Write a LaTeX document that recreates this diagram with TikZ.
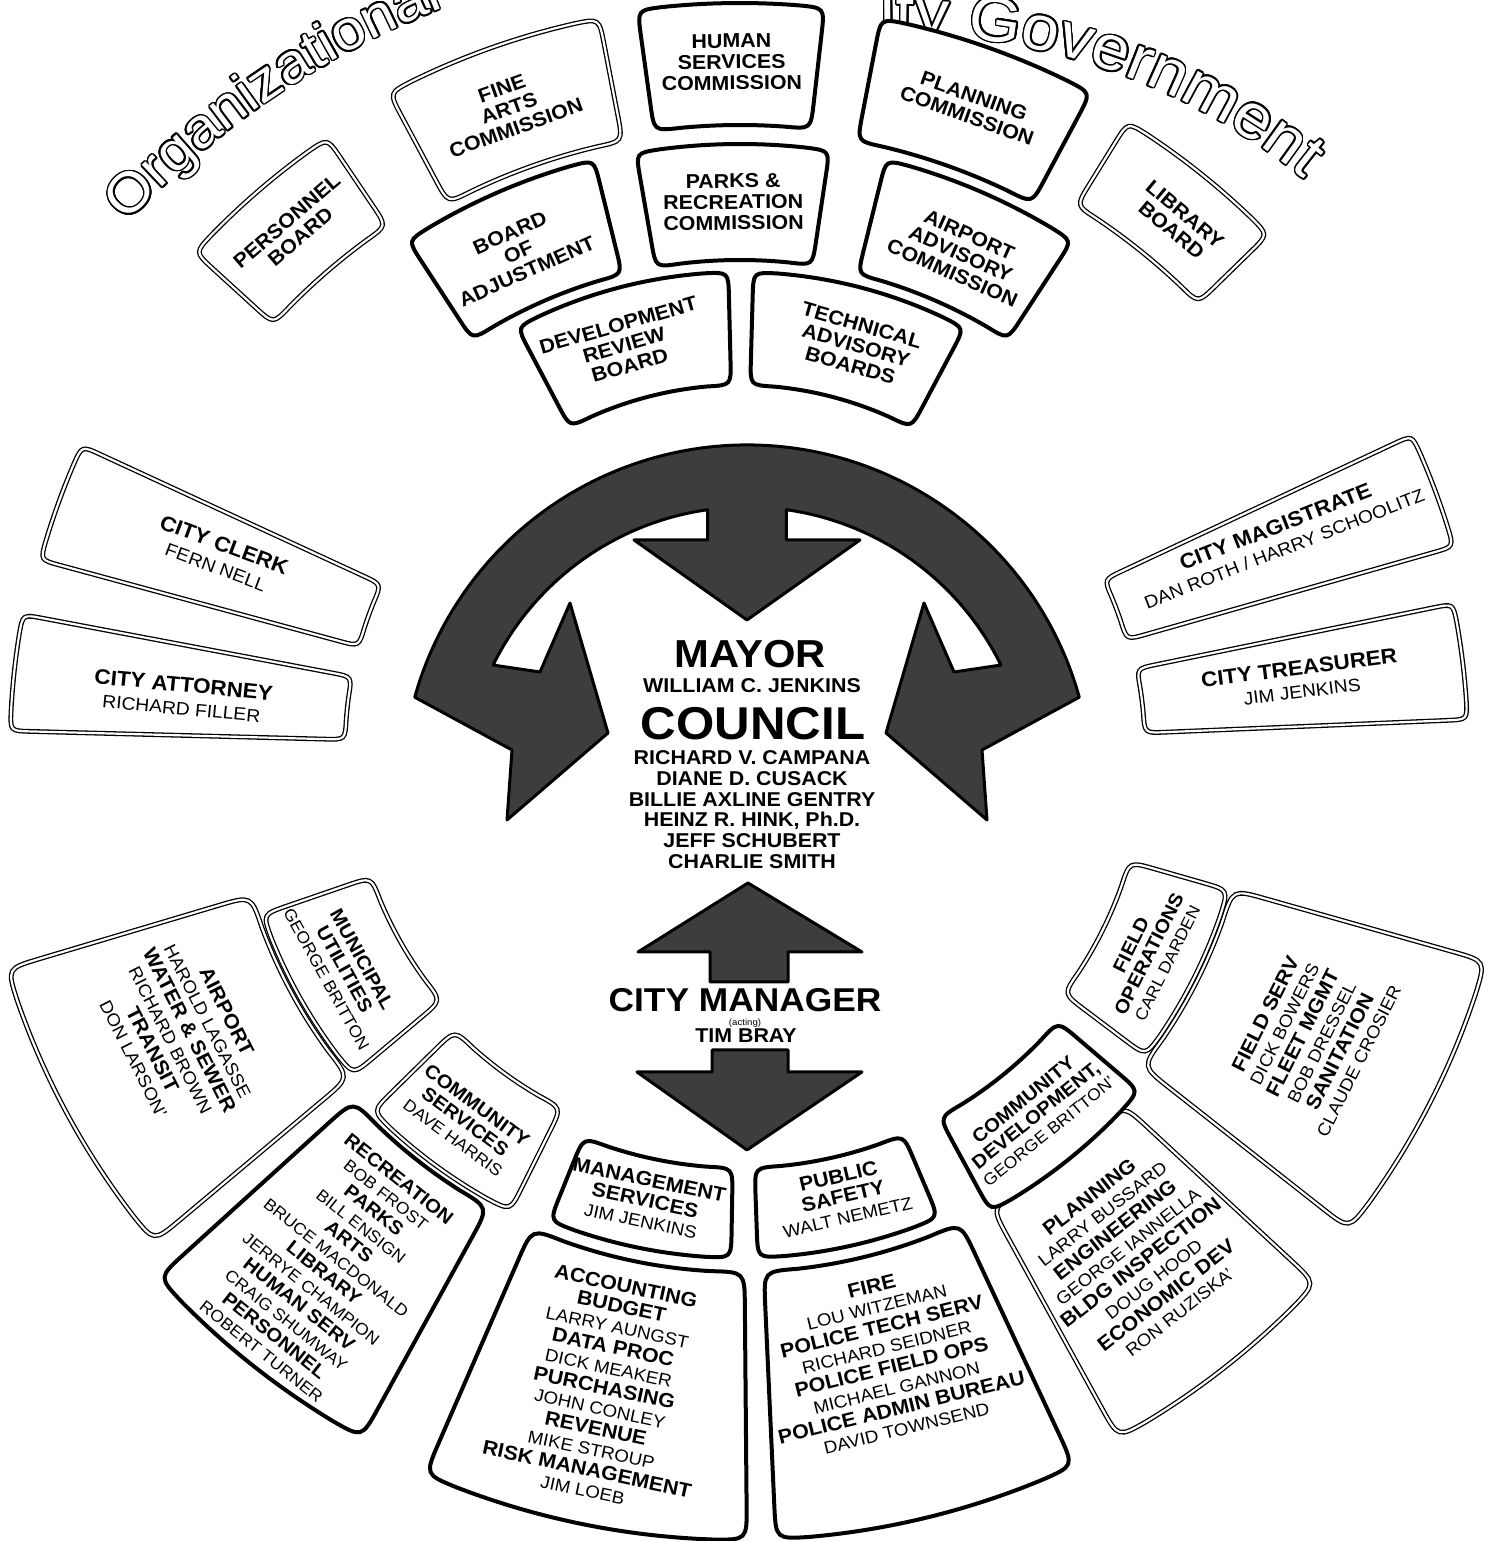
\documentclass[tikz,border=0pt]{standalone}
\usepackage{fontspec}
\setmainfont{Liberation Sans}[FakeStretch=1.07]
\usepackage[copies]{contour}
\contourlength{1.6pt}
\contournumber{20}
\newdimen\chlen
\newcommand\titlefont{\fontsize{56}{56}\selectfont}
\newcommand\nm[1]{{\mdseries\fontsize{17.5}{20}\selectfont #1}}
\newcommand\nms[1]{{\mdseries\fontsize{16.5}{20}\selectfont #1}}
\newcommand\snm[1]{{\mdseries\fontsize{18}{22}\selectfont #1}}
\tikzset{
  dbl/.style={draw=black, line width=1.3pt, double=white, double distance=2.2pt, fill=white},
  thk/.style={draw=black, line width=4pt, fill=white},
  lbl/.style={align=center, inner sep=0pt, font=\bfseries\fontsize{20}{21}\selectfont},
  dept/.style={align=center, inner sep=0pt, font=\bfseries\fontsize{20}{20.8}\selectfont},
  depts/.style={align=center, inner sep=0pt, font=\bfseries\fontsize{19}{20}\selectfont},
  side/.style={align=center, inner sep=0pt, font=\bfseries\fontsize{21}{23}\selectfont},
  hub/.style={fill=black!76, draw=black, line width=3pt, line join=round},
}
\newcommand\secbox[6]{% style, theta, half, r1, r2, rc
  \pgfmathsetmacro\aA{#2-#3}%
  \pgfmathsetmacro\aB{#2+#3}%
  \pgfmathsetmacro\dI{#6/#4*57.29578}%
  \pgfmathsetmacro\dO{#6/#5*57.29578}%
  \pgfmathsetmacro\aAi{\aA+\dI}%
  \pgfmathsetmacro\aBi{\aB-\dI}%
  \pgfmathsetmacro\aAo{\aA+\dO}%
  \pgfmathsetmacro\aBo{\aB-\dO}%
  \pgfmathsetmacro\rIp{#4+#6}%
  \pgfmathsetmacro\rOm{#5-#6}%
  \draw[#1] (\aAi:#4) arc[start angle=\aAi, end angle=\aBi, radius=#4pt]
     .. controls (\aB:#4) .. (\aB:\rIp) -- (\aB:\rOm)
     .. controls (\aB:#5) .. (\aBo:#5)
     arc[start angle=\aBo, end angle=\aAo, radius=#5pt]
     .. controls (\aA:#5) .. (\aA:\rOm) -- (\aA:\rIp)
     .. controls (\aA:#4) .. (\aAi:#4) -- cycle;
}
\newcommand\arcchars[2]{% radius, chars (clockwise from \curang)
  \foreach \tch in {#2}{%
    \pgfinterruptpicture\global\setbox1=\hbox{\titlefont\tch}\endpgfinterruptpicture
    \global\chlen=\wd1
    \pgfmathsetmacro\dang{\chlen/#1*57.29578}%
    \pgfmathsetmacro\midang{\curang-\dang/2}%
    \node[anchor=base, rotate=\midang-90, inner sep=0pt] at (\midang:#1) {\titlefont\color{white}\contour{black}{\tch}};
    \pgfmathsetmacro\newang{\curang-\dang}%
    \xdef\curang{\newang}%
  }%
}
\newcommand\arcspace[1]{%
  \pgfinterruptpicture\global\setbox1=\hbox{\titlefont\ }\endpgfinterruptpicture
  \global\chlen=\wd1
  \pgfmathsetmacro\newang{\curang-\chlen/#1*57.29578}%
  \xdef\curang{\newang}%
}
\begin{document}
\begin{tikzpicture}[x=1pt,y=1pt]
\useasboundingbox (0,0) rectangle (1489,1541);
\fill[white] (0,0) rectangle (1489,1541);

% ---------- title ----------
\begin{scope}[shift={(760.3,727.4)}]
  \xdef\curang{137}
  \arcchars{866}{O,r,g,a,n,i,z,a,t,i,o,n,a,l}
\end{scope}
\begin{scope}[shift={(894.5,857.3)}]
  \renewcommand\titlefont{\fontsize{63}{63}\selectfont}
  \xdef\curang{91.2}
  \arcchars{650}{i,t,y}\arcspace{650}
  \arcchars{650}{G,o,v,e,r,n,m,e,n,t}
\end{scope}

% ---------- central hub ----------
\begin{scope}[shift={(747,751)}]
\draw[hub] (15.6:345) arc[start angle=15.6, end angle=164.4, radius=345pt]
  -- (-235,40) -- (-240,-30) -- (-139,57) -- (-177,187) -- (-207,118)
  -- (153.8:283) arc[start angle=153.8, end angle=98, radius=283pt]
  -- (-39.4,250) -- (-113,250) -- (0,170) -- (113,250) -- (39.4,250)
  -- (82:283) arc[start angle=82, end angle=26.2, radius=283pt]
  -- (207,118) -- (177,187) -- (139,57) -- (240,-30) -- (235,40) -- cycle;
\end{scope}
\draw[hub] (748,658) -- (862,589) -- (788,589) -- (788,559) -- (710,559) -- (710,589) -- (638,589) -- cycle;
\draw[hub] (712,491) -- (788,491) -- (788,469) -- (862,469) -- (747,391) -- (637,469) -- (712,469) -- cycle;

\node[anchor=base, inner sep=0pt, font=\bfseries\fontsize{39}{39}\selectfont] (mayor) at (750,873) {MAYOR};
\node[anchor=base, inner sep=0pt, font=\bfseries\fontsize{20}{20}\selectfont] (mayorname) at (752,848) {WILLIAM C. JENKINS};
\node[anchor=base, inner sep=0pt, font=\bfseries\fontsize{46}{46}\selectfont] (council) at (753,801) {COUNCIL};
\node[anchor=base, inner sep=0pt, font=\bfseries\fontsize{20}{20}\selectfont] (m1) at (752,776) {RICHARD V. CAMPANA};
\node[anchor=base, inner sep=0pt, font=\bfseries\fontsize{20}{20}\selectfont] (m2) at (752,755.3) {DIANE D. CUSACK};
\node[anchor=base, inner sep=0pt, font=\bfseries\fontsize{20}{20}\selectfont] (m3) at (752,734.7) {BILLIE AXLINE GENTRY};
\node[anchor=base, inner sep=0pt, font=\bfseries\fontsize{20}{20}\selectfont] (m4) at (752,714) {HEINZ R. HINK, Ph.D.};
\node[anchor=base, inner sep=0pt, font=\bfseries\fontsize{20}{20}\selectfont] (m5) at (752,693.3) {JEFF SCHUBERT};
\node[anchor=base, inner sep=0pt, font=\bfseries\fontsize{20}{20}\selectfont] (m6) at (752,672.7) {CHARLIE SMITH};
\node[anchor=base, inner sep=0pt, font=\bfseries\fontsize{33}{33}\selectfont] (cm) at (745,529) {CITY MANAGER};
\node[anchor=base, inner sep=0pt, font=\fontsize{9}{9}\selectfont] (acting) at (745,515) {(acting)};
\node[anchor=base, inner sep=0pt, font=\bfseries\fontsize{20}{20}\selectfont] (tim) at (746,498) {TIM BRAY};

% ---------- boxes around centre ----------
\begin{scope}[shift={(740,791)}]
% top outer ring
\secbox{dbl}{130.8}{6.8}{632}{738}{24}
\node[lbl,rotate=40.6] (pers) at (130.6:686) {PERSONNEL\\BOARD};
\secbox{dbl}{109.5}{8.6}{620}{745}{26}
\node[lbl,rotate=19.8] (fine) at (109.8:682) {FINE\\ARTS\\COMMISSION};
\secbox{thk}{90.7}{7.2}{625}{747}{26}
\node[lbl,rotate=0.7] (hsc) at (90.7:688) {HUMAN\\SERVICES\\COMMISSION};
\secbox{thk}{70.5}{8.6}{620}{745}{26}
\node[lbl,rotate=-19.7] (plc) at (70.3:684) {PLANNING\\COMMISSION};
\secbox{dbl}{51.3}{7}{640}{738}{24}
\node[lbl,rotate=-40] (lib) at (50.3:686) {LIBRARY\\BOARD};
% middle ring
\secbox{thk}{113.5}{9.6}{490}{608}{24}
\node[lbl,rotate=24] (boa) at (114:545) {BOARD\\OF\\ADJUSTMENT};
\secbox{thk}{90.7}{9.2}{490}{606}{24}
\node[lbl,rotate=0.7] (prc) at (90.7:548) {PARKS \&\\RECREATION\\COMMISSION};
\secbox{thk}{66.5}{9.6}{490}{608}{24}
\node[lbl,rotate=-24] (aac) at (66:543) {AIRPORT\\ADVISORY\\COMMISSION};
% inner ring
\secbox{thk}{104.6}{13.2}{365}{478}{24}
\node[lbl,rotate=16] (drb) at (106:421) {DEVELOPMENT\\REVIEW\\BOARD};
\secbox{thk}{75.2}{13.2}{365}{478}{24}
\node[lbl,rotate=-16] (tab) at (74:421) {TECHNICAL\\ADVISORY\\BOARDS};

% sides
\secbox{dbl}{160}{4.8}{395}{725}{20}
\node[side,rotate=-20.5] (clerk) at (159.5:555) {CITY CLERK\\\snm{FERN NELL}};
\secbox{dbl}{173.9}{4.6}{395}{730}{20}
\node[side,rotate=-5.5] (atty) at (174.5:560) {CITY ATTORNEY\\\snm{RICHARD FILLER}};
\secbox{dbl}{20.5}{4.6}{402}{742}{20}
\node[side,rotate=21.5] (mag) at (21.5:580) {CITY MAGISTRATE\\\snm{DAN ROTH / HARRY SCHOOLITZ}};
\secbox{dbl}{7}{4.6}{405}{728}{20}
\node[side,rotate=7.2] (treas) at (7.2:565) {CITY TREASURER\\\snm{JIM JENKINS}};

% bottom outer ring
\secbox{dbl}{-151.7}{11.7}{510}{765}{34}
\node[dept,rotate=-63] (airport) at (-153:628) {AIRPORT\\\nm{HAROLD LAGASSE}\\WATER \& SEWER\\\nm{RICHARD BROWN}\\TRANSIT\\\nm{DON LARSON'}};
\secbox{thk}{-128.3}{9.5}{522}{785}{34}
\node[depts,rotate=-38.5] (rec) at (-128.5:658) {RECREATION\\\nms{BOB FROST}\\PARKS\\\nms{BILL ENSIGN}\\ARTS\\\nms{BRUCE MACDONALD}\\LIBRARY\\\nms{JERRYE CHAMPION}\\HUMAN SERV\\\nms{CRAIG SHUMWAY}\\PERSONNEL\\\nms{ROBERT TURNER}};
\secbox{thk}{-101.5}{12}{522}{790}{34}
\node[dept,rotate=-12] (acct) at (-102:652) {ACCOUNTING\\BUDGET\\\nm{LARRY AUNGST}\\DATA PROC\\\nm{DICK MEAKER}\\PURCHASING\\\nm{JOHN CONLEY}\\REVENUE\\\nm{MIKE STROUP}\\RISK MANAGEMENT\\\nm{JIM LOEB}};
\secbox{thk}{-76.2}{11.2}{522}{790}{34}
\node[dept,rotate=13.8] (fire) at (-76.2:625) {FIRE\\\nm{LOU WITZEMAN}\\POLICE TECH SERV\\\nm{RICHARD SEIDNER}\\POLICE FIELD OPS\\\nm{MICHAEL GANNON}\\POLICE ADMIN BUREAU\\\nm{DAVID TOWNSEND}};
\secbox{dbl}{-52}{9.2}{522}{785}{34}
\node[dept,rotate=38] (plan) at (-52:640) {PLANNING\\\nm{LARRY BUSSARD}\\ENGINEERING\\\nm{GEORGE IANNELLA}\\BLDG INSPECTION\\\nm{DOUG HOOD}\\ECONOMIC DEV\\\nm{RON RUZISKA'}};
\secbox{dbl}{-27}{11.2}{512}{775}{34}
\node[dept,rotate=63.3] (fserv) at (-26.7:640) {FIELD SERV\\\nm{DICK BOWERS}\\FLEET MGMT\\\nm{BOB DRESSEL}\\SANITATION\\\nm{CLAUDE CROSIER}};

% bottom inner ring
\secbox{dbl}{-150.5}{10.5}{390}{505}{26}
\node[depts,rotate=-61] (mu) at (-151:452) {MUNICIPAL\\UTILITIES\\\nms{GEORGE BRITTON}};
\secbox{dbl}{-126}{9.5}{400}{515}{26}
\node[depts,rotate=-36.5] (cs) at (-126.5:462) {COMMUNITY\\SERVICES\\\nms{DAVE HARRIS}};
\secbox{thk}{-101.5}{10.5}{418}{508}{26}
\node[dept,rotate=-11.9] (ms) at (-101.9:460) {MANAGEMENT\\SERVICES\\\nm{JIM JENKINS}};
\secbox{thk}{-77.5}{10.5}{418}{508}{26}
\node[dept,rotate=13] (ps) at (-77:458) {PUBLIC\\SAFETY\\\nm{WALT NEMETZ}};
\secbox{thk}{-51}{10.5}{418}{525}{26}
\node[depts,rotate=39] (cd) at (-51:470) {COMMUNITY\\DEVELOPMENT,\\\nms{GEORGE BRITTON'}};
\secbox{dbl}{-26.5}{10.5}{405}{508}{26}
\node[depts,rotate=63.5] (fo) at (-26.5:457) {FIELD\\OPERATIONS\\\nms{CARL DARDEN}};
\end{scope}
\end{tikzpicture}
\end{document}
